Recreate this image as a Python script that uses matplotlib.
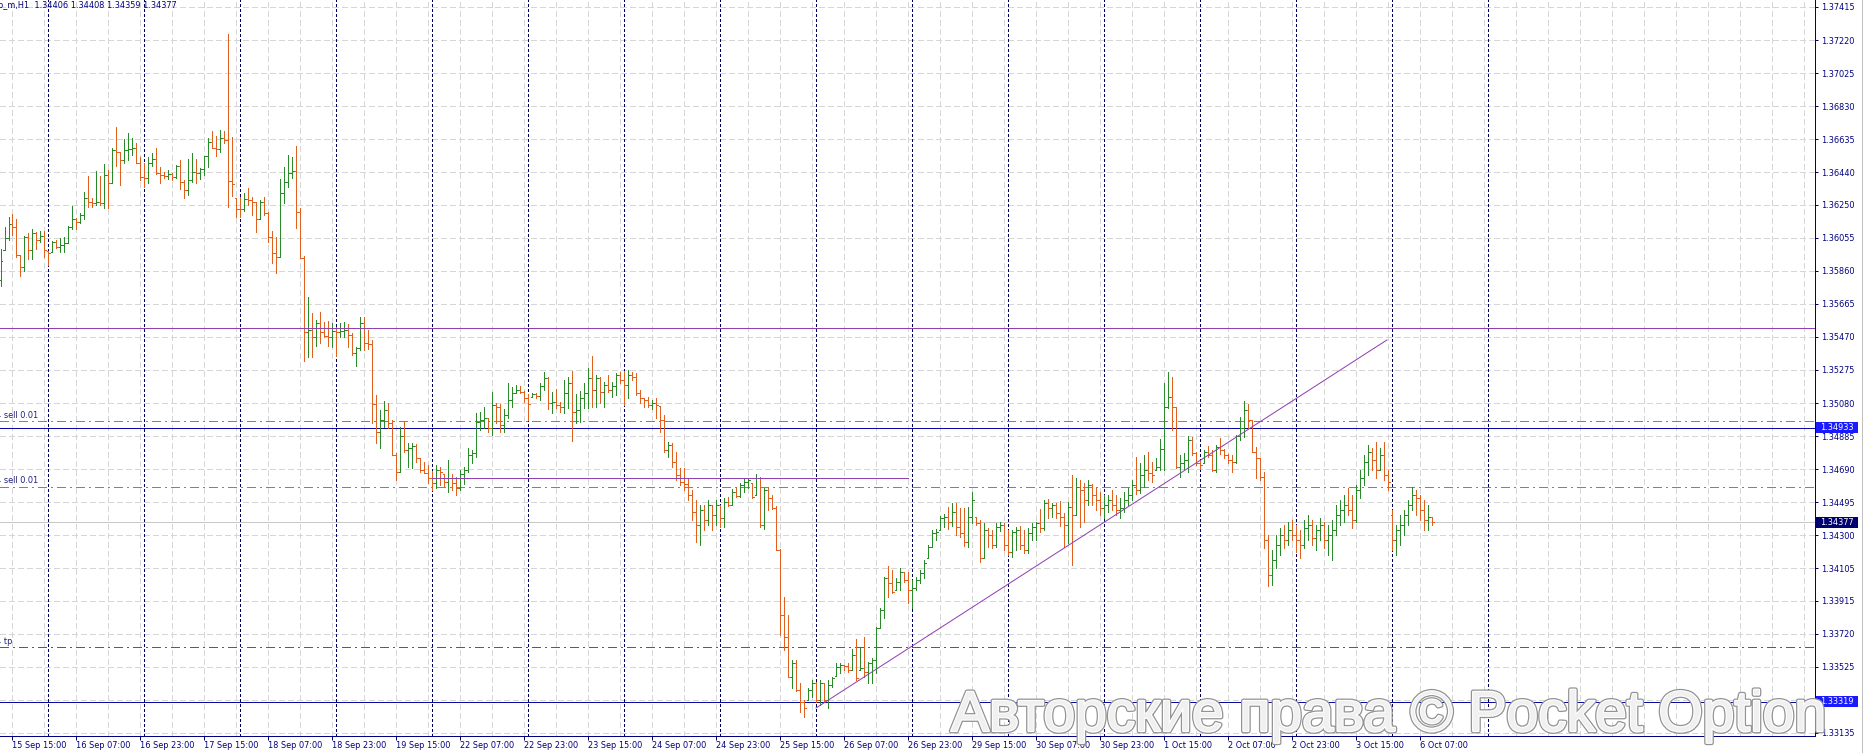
import matplotlib
matplotlib.use("Agg")
import matplotlib.pyplot as plt
import matplotlib.patheffects as pe
from matplotlib.patches import Rectangle
from matplotlib.lines import Line2D
from matplotlib.transforms import blended_transform_factory
import numpy as np

plt.rcParams["font.family"] = "DejaVu Sans"
plt.rcParams["lines.scale_dashes"] = False

# H1 bars, bar 0 = 15 Sep 15:00, weekend hours are skipped
first_bar = -3
opens = [
    1.35805, 1.35982, 1.36051, 1.36135, 1.36120, 1.35951, 1.35882, 1.36061, 1.35982, 1.36080,
    1.36041, 1.36065, 1.35978, 1.35968, 1.36031, 1.36002, 1.36012, 1.36022, 1.36120, 1.36163,
    1.36149, 1.36188, 1.36287, 1.36267, 1.36261, 1.36265, 1.36257, 1.36424, 1.36375, 1.36572,
    1.36562, 1.36513, 1.36572, 1.36576, 1.36585, 1.36497, 1.36414, 1.36405, 1.36493, 1.36517,
    1.36438, 1.36424, 1.36418, 1.36430, 1.36411, 1.36477, 1.36385, 1.36336, 1.36395, 1.36444,
    1.36434, 1.36458, 1.36536, 1.36621, 1.36582, 1.36576, 1.36640, 1.36631, 1.36387, 1.36287,
    1.36226, 1.36222, 1.36281, 1.36275, 1.36267, 1.36163, 1.36267, 1.36202, 1.36057, 1.35963,
    1.35939, 1.36320, 1.36385, 1.36438, 1.36450, 1.36206, 1.35933, 1.35500, 1.35511, 1.35469,
    1.35552, 1.35499, 1.35475, 1.35469, 1.35505, 1.35499, 1.35505, 1.35511, 1.35481, 1.35375,
    1.35405, 1.35552, 1.35434, 1.35428, 1.35074, 1.34909, 1.34980, 1.35039, 1.34962, 1.34774,
    1.34674, 1.34886, 1.34803, 1.34815, 1.34827, 1.34756, 1.34685, 1.34668, 1.34638, 1.34609,
    1.34685, 1.34662, 1.34615, 1.34638, 1.34609, 1.34579, 1.34662, 1.34685, 1.34774, 1.34786,
    1.34968, 1.34980, 1.34992, 1.34933, 1.35069, 1.35057, 1.34951, 1.35010, 1.35098, 1.35139,
    1.35157, 1.35145, 1.35110, 1.35116, 1.35133, 1.35122, 1.35181, 1.35228, 1.35080, 1.35086,
    1.35069, 1.35057, 1.35139, 1.35198, 1.35027, 1.35039, 1.35110, 1.35139, 1.35228, 1.35157,
    1.35228, 1.35145, 1.35186, 1.35157, 1.35181, 1.35245, 1.35216, 1.35186, 1.35245, 1.35234,
    1.35139, 1.35110, 1.35098, 1.35069, 1.35080, 1.35063, 1.34980, 1.34803, 1.34833, 1.34733,
    1.34656, 1.34615, 1.34603, 1.34538, 1.34438, 1.34361, 1.34450, 1.34391, 1.34479, 1.34420,
    1.34479, 1.34402, 1.34497, 1.34479, 1.34556, 1.34532, 1.34597, 1.34615, 1.34609, 1.34538,
    1.34638, 1.34361, 1.34567, 1.34520, 1.34461, 1.34214, 1.33831, 1.33701, 1.33465, 1.33548,
    1.33388, 1.33319, 1.33330, 1.33388, 1.33430, 1.33330, 1.33430, 1.33330, 1.33418, 1.33471,
    1.33524, 1.33536, 1.33530, 1.33506, 1.33595, 1.33506, 1.33518, 1.33494, 1.33548, 1.33565,
    1.33754, 1.33860, 1.34049, 1.34019, 1.33978, 1.34025, 1.34084, 1.34037, 1.33978, 1.33990,
    1.34037, 1.34078, 1.34167, 1.34232, 1.34314, 1.34332, 1.34402, 1.34408, 1.34379, 1.34438,
    1.34349, 1.34314, 1.34261, 1.34408, 1.34408, 1.34373, 1.34167, 1.34332, 1.34302, 1.34243,
    1.34349, 1.34361, 1.34243, 1.34202, 1.34320, 1.34332, 1.34243, 1.34214, 1.34314, 1.34349,
    1.34373, 1.34343, 1.34491, 1.34461, 1.34479, 1.34432, 1.34408, 1.34361, 1.34467, 1.34420,
    1.34585, 1.34567, 1.34509, 1.34597, 1.34538, 1.34509, 1.34461, 1.34479, 1.34509, 1.34479,
    1.34450, 1.34461, 1.34509, 1.34538, 1.34597, 1.34567, 1.34656, 1.34685, 1.34668, 1.34685,
    1.34703, 1.34809, 1.35057, 1.35116, 1.35057, 1.34703, 1.34727, 1.34744, 1.34862, 1.34786,
    1.34727, 1.34727, 1.34791, 1.34774, 1.34685, 1.34821, 1.34803, 1.34774, 1.34744, 1.34733,
    1.34886, 1.34933, 1.35039, 1.34980, 1.34791, 1.34756, 1.34644, 1.34273, 1.34066, 1.34155,
    1.34243, 1.34302, 1.34273, 1.34332, 1.34302, 1.34273, 1.34243, 1.34343, 1.34361, 1.34285,
    1.34332, 1.34361, 1.34273, 1.34302, 1.34332, 1.34420, 1.34450, 1.34479, 1.34450, 1.34391,
    1.34567, 1.34638, 1.34733, 1.34791, 1.34744, 1.34685, 1.34774, 1.34656, 1.34420, 1.34273,
    1.34332, 1.34361, 1.34420, 1.34479, 1.34538, 1.34520, 1.34450, 1.34391, 1.34406,
]
highs = [
    1.35986, 1.36120, 1.36179, 1.36194, 1.36163, 1.35951, 1.36065, 1.36084, 1.36104, 1.36090,
    1.36096, 1.36096, 1.35978, 1.36037, 1.36041, 1.36051, 1.36061, 1.36124, 1.36242, 1.36169,
    1.36198, 1.36324, 1.36418, 1.36287, 1.36450, 1.36418, 1.36489, 1.36454, 1.36585, 1.36707,
    1.36562, 1.36635, 1.36670, 1.36640, 1.36611, 1.36532, 1.36493, 1.36532, 1.36552, 1.36585,
    1.36473, 1.36444, 1.36454, 1.36438, 1.36483, 1.36513, 1.36395, 1.36517, 1.36552, 1.36517,
    1.36464, 1.36536, 1.36640, 1.36686, 1.36654, 1.36690, 1.36686, 1.37255, 1.36650, 1.36287,
    1.36297, 1.36320, 1.36346, 1.36293, 1.36267, 1.36277, 1.36297, 1.36208, 1.36096, 1.36061,
    1.36399, 1.36473, 1.36542, 1.36532, 1.36595, 1.36228, 1.35947, 1.35705, 1.35611, 1.35570,
    1.35617, 1.35558, 1.35564, 1.35552, 1.35528, 1.35552, 1.35558, 1.35546, 1.35493, 1.35410,
    1.35587, 1.35587, 1.35511, 1.35452, 1.35127, 1.35039, 1.35092, 1.35080, 1.34980, 1.34786,
    1.34939, 1.34968, 1.34845, 1.34845, 1.34839, 1.34756, 1.34733, 1.34715, 1.34679, 1.34715,
    1.34703, 1.34662, 1.34744, 1.34662, 1.34644, 1.34685, 1.34703, 1.34815, 1.34803, 1.35021,
    1.35027, 1.35057, 1.34992, 1.35145, 1.35080, 1.35074, 1.35045, 1.35198, 1.35175, 1.35186,
    1.35181, 1.35151, 1.35133, 1.35139, 1.35139, 1.35198, 1.35263, 1.35234, 1.35145, 1.35163,
    1.35086, 1.35216, 1.35234, 1.35269, 1.35133, 1.35151, 1.35198, 1.35287, 1.35357, 1.35245,
    1.35234, 1.35204, 1.35245, 1.35204, 1.35257, 1.35263, 1.35269, 1.35275, 1.35263, 1.35257,
    1.35157, 1.35110, 1.35116, 1.35098, 1.35110, 1.35063, 1.35010, 1.34850, 1.34845, 1.34791,
    1.34697, 1.34697, 1.34638, 1.34567, 1.34509, 1.34479, 1.34479, 1.34509, 1.34479, 1.34509,
    1.34479, 1.34520, 1.34526, 1.34573, 1.34585, 1.34609, 1.34638, 1.34638, 1.34609, 1.34662,
    1.34644, 1.34579, 1.34585, 1.34538, 1.34473, 1.34220, 1.33937, 1.33831, 1.33565, 1.33565,
    1.33430, 1.33330, 1.33400, 1.33447, 1.33436, 1.33447, 1.33430, 1.33447, 1.33465, 1.33548,
    1.33548, 1.33536, 1.33548, 1.33630, 1.33689, 1.33642, 1.33701, 1.33553, 1.33577, 1.33760,
    1.33872, 1.34054, 1.34119, 1.34096, 1.34049, 1.34108, 1.34084, 1.34084, 1.34037, 1.34054,
    1.34096, 1.34155, 1.34243, 1.34332, 1.34338, 1.34414, 1.34426, 1.34468, 1.34491, 1.34491,
    1.34461, 1.34461, 1.34468, 1.34556, 1.34408, 1.34391, 1.34373, 1.34343, 1.34332, 1.34373,
    1.34379, 1.34373, 1.34332, 1.34332, 1.34349, 1.34355, 1.34332, 1.34343, 1.34373, 1.34379,
    1.34455, 1.34509, 1.34514, 1.34491, 1.34491, 1.34503, 1.34432, 1.34497, 1.34656, 1.34638,
    1.34626, 1.34609, 1.34626, 1.34603, 1.34579, 1.34556, 1.34538, 1.34538, 1.34567, 1.34538,
    1.34520, 1.34556, 1.34579, 1.34626, 1.34762, 1.34727, 1.34774, 1.34791, 1.34733, 1.34756,
    1.34868, 1.35198, 1.35263, 1.35234, 1.35057, 1.34774, 1.34786, 1.34886, 1.34880, 1.34791,
    1.34744, 1.34803, 1.34827, 1.34803, 1.34833, 1.34874, 1.34809, 1.34780, 1.34774, 1.34892,
    1.34998, 1.35092, 1.35074, 1.34980, 1.34821, 1.34756, 1.34674, 1.34302, 1.34214, 1.34302,
    1.34343, 1.34361, 1.34379, 1.34391, 1.34361, 1.34332, 1.34391, 1.34420, 1.34391, 1.34361,
    1.34402, 1.34379, 1.34361, 1.34391, 1.34479, 1.34509, 1.34538, 1.34579, 1.34538, 1.34597,
    1.34685, 1.34774, 1.34833, 1.34815, 1.34850, 1.34815, 1.34850, 1.34685, 1.34450, 1.34361,
    1.34420, 1.34450, 1.34509, 1.34585, 1.34567, 1.34538, 1.34509, 1.34479, 1.34408,
]
lows = [
    1.35772, 1.35982, 1.36041, 1.36071, 1.35943, 1.35831, 1.35860, 1.35931, 1.35931, 1.35990,
    1.36027, 1.35943, 1.35896, 1.35968, 1.35992, 1.35968, 1.35968, 1.36022, 1.36104, 1.36108,
    1.36139, 1.36163, 1.36238, 1.36234, 1.36247, 1.36247, 1.36228, 1.36228, 1.36375, 1.36477,
    1.36365, 1.36497, 1.36513, 1.36542, 1.36493, 1.36395, 1.36356, 1.36375, 1.36477, 1.36430,
    1.36379, 1.36405, 1.36399, 1.36395, 1.36405, 1.36340, 1.36287, 1.36306, 1.36385, 1.36375,
    1.36399, 1.36424, 1.36473, 1.36582, 1.36536, 1.36562, 1.36615, 1.36238, 1.36300, 1.36179,
    1.36179, 1.36214, 1.36247, 1.36188, 1.36090, 1.36163, 1.36188, 1.36031, 1.35907, 1.35849,
    1.35939, 1.36257, 1.36356, 1.36405, 1.36110, 1.35933, 1.35328, 1.35351, 1.35351, 1.35416,
    1.35434, 1.35469, 1.35416, 1.35410, 1.35357, 1.35469, 1.35469, 1.35410, 1.35363, 1.35298,
    1.35393, 1.35393, 1.35399, 1.34962, 1.34845, 1.34815, 1.34939, 1.34933, 1.34774, 1.34626,
    1.34674, 1.34791, 1.34703, 1.34697, 1.34733, 1.34674, 1.34668, 1.34609, 1.34567, 1.34579,
    1.34597, 1.34585, 1.34556, 1.34567, 1.34538, 1.34567, 1.34603, 1.34674, 1.34727, 1.34762,
    1.34921, 1.34933, 1.34909, 1.34892, 1.34962, 1.34909, 1.34909, 1.34992, 1.35057, 1.35139,
    1.35139, 1.35086, 1.34980, 1.35116, 1.35110, 1.35098, 1.35157, 1.35045, 1.35021, 1.35051,
    1.35027, 1.35021, 1.35051, 1.34856, 1.34962, 1.34968, 1.35051, 1.35051, 1.35057, 1.35057,
    1.35080, 1.35057, 1.35145, 1.35116, 1.35128, 1.35198, 1.35069, 1.35110, 1.35216, 1.35128,
    1.35080, 1.35057, 1.35057, 1.35045, 1.34992, 1.34909, 1.34791, 1.34762, 1.34703, 1.34626,
    1.34597, 1.34567, 1.34509, 1.34391, 1.34261, 1.34243, 1.34332, 1.34361, 1.34332, 1.34361,
    1.34349, 1.34349, 1.34473, 1.34479, 1.34526, 1.34526, 1.34556, 1.34579, 1.34520, 1.34538,
    1.34349, 1.34338, 1.34450, 1.34455, 1.34214, 1.33713, 1.33624, 1.33465, 1.33400, 1.33383,
    1.33259, 1.33229, 1.33330, 1.33347, 1.33319, 1.33300, 1.33319, 1.33282, 1.33406, 1.33471,
    1.33489, 1.33506, 1.33494, 1.33506, 1.33447, 1.33506, 1.33465, 1.33430, 1.33430, 1.33489,
    1.33754, 1.33813, 1.33937, 1.33960, 1.33978, 1.33978, 1.34025, 1.33901, 1.33872, 1.33978,
    1.34019, 1.34049, 1.34167, 1.34232, 1.34273, 1.34332, 1.34349, 1.34338, 1.34355, 1.34302,
    1.34290, 1.34237, 1.34232, 1.34373, 1.34361, 1.34143, 1.34167, 1.34232, 1.34226, 1.34232,
    1.34326, 1.34214, 1.34184, 1.34173, 1.34214, 1.34220, 1.34196, 1.34196, 1.34273, 1.34273,
    1.34320, 1.34332, 1.34402, 1.34408, 1.34402, 1.34355, 1.34232, 1.34255, 1.34125, 1.34420,
    1.34349, 1.34379, 1.34479, 1.34479, 1.34450, 1.34420, 1.34402, 1.34438, 1.34450, 1.34420,
    1.34402, 1.34438, 1.34479, 1.34509, 1.34544, 1.34550, 1.34585, 1.34626, 1.34615, 1.34685,
    1.34685, 1.34685, 1.35051, 1.34921, 1.34697, 1.34644, 1.34691, 1.34674, 1.34774, 1.34715,
    1.34691, 1.34727, 1.34762, 1.34679, 1.34674, 1.34780, 1.34756, 1.34727, 1.34674, 1.34727,
    1.34862, 1.34880, 1.34933, 1.34791, 1.34638, 1.34626, 1.34226, 1.34001, 1.34007, 1.34108,
    1.34184, 1.34226, 1.34243, 1.34273, 1.34202, 1.34167, 1.34226, 1.34273, 1.34243, 1.34214,
    1.34273, 1.34226, 1.34184, 1.34155, 1.34302, 1.34361, 1.34379, 1.34420, 1.34343, 1.34379,
    1.34520, 1.34597, 1.34656, 1.34685, 1.34638, 1.34685, 1.34626, 1.34567, 1.34214, 1.34184,
    1.34243, 1.34302, 1.34361, 1.34450, 1.34420, 1.34391, 1.34332, 1.34332, 1.34359,
]
closes = [
    1.35915, 1.36051, 1.36135, 1.36120, 1.35951, 1.35882, 1.36061, 1.35982, 1.36080, 1.36041,
    1.36065, 1.35982, 1.35963, 1.36031, 1.36002, 1.36012, 1.36022, 1.36120, 1.36163, 1.36149,
    1.36188, 1.36287, 1.36267, 1.36261, 1.36265, 1.36257, 1.36424, 1.36375, 1.36572, 1.36562,
    1.36513, 1.36572, 1.36576, 1.36585, 1.36497, 1.36414, 1.36405, 1.36493, 1.36517, 1.36438,
    1.36424, 1.36418, 1.36430, 1.36411, 1.36477, 1.36385, 1.36336, 1.36395, 1.36444, 1.36434,
    1.36458, 1.36536, 1.36621, 1.36582, 1.36576, 1.36640, 1.36631, 1.36387, 1.36371, 1.36226,
    1.36222, 1.36281, 1.36275, 1.36267, 1.36163, 1.36267, 1.36202, 1.36057, 1.35963, 1.35939,
    1.36320, 1.36385, 1.36438, 1.36450, 1.36206, 1.35933, 1.35500, 1.35511, 1.35469, 1.35552,
    1.35499, 1.35475, 1.35469, 1.35505, 1.35499, 1.35505, 1.35511, 1.35481, 1.35375, 1.35405,
    1.35552, 1.35434, 1.35428, 1.35074, 1.34909, 1.34980, 1.35039, 1.34962, 1.34774, 1.34674,
    1.34886, 1.34803, 1.34815, 1.34827, 1.34756, 1.34685, 1.34668, 1.34638, 1.34609, 1.34685,
    1.34674, 1.34615, 1.34638, 1.34609, 1.34579, 1.34662, 1.34685, 1.34774, 1.34786, 1.34968,
    1.34980, 1.34992, 1.34933, 1.35069, 1.35057, 1.34951, 1.35010, 1.35098, 1.35139, 1.35157,
    1.35145, 1.35110, 1.35074, 1.35133, 1.35122, 1.35181, 1.35228, 1.35080, 1.35086, 1.35069,
    1.35057, 1.35139, 1.35198, 1.35027, 1.35039, 1.35110, 1.35139, 1.35228, 1.35157, 1.35228,
    1.35145, 1.35186, 1.35157, 1.35181, 1.35245, 1.35216, 1.35186, 1.35245, 1.35234, 1.35139,
    1.35110, 1.35098, 1.35069, 1.35080, 1.35069, 1.34980, 1.34803, 1.34833, 1.34733, 1.34656,
    1.34615, 1.34603, 1.34538, 1.34438, 1.34361, 1.34450, 1.34391, 1.34479, 1.34420, 1.34479,
    1.34402, 1.34497, 1.34479, 1.34556, 1.34532, 1.34597, 1.34615, 1.34626, 1.34526, 1.34638,
    1.34361, 1.34567, 1.34520, 1.34461, 1.34214, 1.33831, 1.33701, 1.33465, 1.33548, 1.33388,
    1.33319, 1.33282, 1.33388, 1.33430, 1.33330, 1.33430, 1.33330, 1.33418, 1.33459, 1.33524,
    1.33536, 1.33530, 1.33506, 1.33595, 1.33459, 1.33518, 1.33494, 1.33548, 1.33565, 1.33754,
    1.33860, 1.34049, 1.34019, 1.33966, 1.34025, 1.34084, 1.34037, 1.33978, 1.33990, 1.34037,
    1.34078, 1.34137, 1.34232, 1.34314, 1.34320, 1.34402, 1.34408, 1.34379, 1.34438, 1.34349,
    1.34314, 1.34261, 1.34408, 1.34509, 1.34373, 1.34167, 1.34332, 1.34302, 1.34243, 1.34349,
    1.34361, 1.34243, 1.34202, 1.34320, 1.34332, 1.34243, 1.34214, 1.34314, 1.34349, 1.34373,
    1.34343, 1.34491, 1.34461, 1.34479, 1.34432, 1.34408, 1.34361, 1.34467, 1.34420, 1.34585,
    1.34567, 1.34509, 1.34597, 1.34538, 1.34509, 1.34461, 1.34479, 1.34509, 1.34479, 1.34450,
    1.34461, 1.34509, 1.34538, 1.34597, 1.34567, 1.34656, 1.34685, 1.34668, 1.34656, 1.34703,
    1.34809, 1.35057, 1.35116, 1.35057, 1.34703, 1.34727, 1.34744, 1.34862, 1.34786, 1.34727,
    1.34715, 1.34791, 1.34774, 1.34685, 1.34821, 1.34803, 1.34774, 1.34744, 1.34733, 1.34886,
    1.34933, 1.35039, 1.34980, 1.34791, 1.34756, 1.34644, 1.34273, 1.34066, 1.34155, 1.34243,
    1.34302, 1.34273, 1.34332, 1.34302, 1.34273, 1.34243, 1.34343, 1.34361, 1.34285, 1.34332,
    1.34361, 1.34273, 1.34302, 1.34332, 1.34420, 1.34450, 1.34479, 1.34450, 1.34391, 1.34567,
    1.34638, 1.34733, 1.34791, 1.34744, 1.34685, 1.34774, 1.34656, 1.34615, 1.34273, 1.34332,
    1.34361, 1.34420, 1.34479, 1.34538, 1.34520, 1.34450, 1.34391, 1.34406, 1.34377,
]

time_labels = ["15 Sep 15:00", "16 Sep 07:00", "16 Sep 23:00", "17 Sep 15:00", "18 Sep 07:00",
               "18 Sep 23:00", "19 Sep 15:00", "22 Sep 07:00", "22 Sep 23:00", "23 Sep 15:00",
               "24 Sep 07:00", "24 Sep 23:00", "25 Sep 15:00", "26 Sep 07:00", "26 Sep 23:00",
               "29 Sep 15:00", "30 Sep 07:00", "30 Sep 23:00", "1 Oct 15:00", "2 Oct 07:00",
               "2 Oct 23:00", "3 Oct 15:00", "6 Oct 07:00"]
label_bars = list(range(0, 353, 16))
day_starts = [9, 33, 57, 81, 105, 129, 153, 177, 201, 225, 249, 273, 297, 321, 345, 369]
price_labels = [1.37415, 1.37220, 1.37025, 1.36830, 1.36635, 1.36440, 1.36250, 1.36055,
                1.35860, 1.35665, 1.35470, 1.35275, 1.35080, 1.34885, 1.34690, 1.34495,
                1.34300, 1.34105, 1.33915, 1.33720, 1.33525, 1.33330, 1.33135]

resistance = 1.35522
support_bars = (105, 224)
support = 1.34638
trend_bars = (201, 343.75)
trend_prices = (1.33282, 1.35452)
sell_levels = [1.34974, 1.34585]
tp_level = 1.33640
order_levels = [1.34933, 1.33319]
bid = 1.34377
header = "p_m,H1  1.34406 1.34408 1.34359 1.34377"

W, H = 1865, 753
PX = 0.72
FS = 5.9
NAVY = "#000080"
SEP = "#00005a"
GREEN = "#2a8a2a"
ORANGE = "#e0601e"
PURPLE = "#9040b0"
LINE_BLUE = "#0a0aa0"
dpp = 5.895e-5  # price per pixel

fig = plt.figure(figsize=(W / 100, H / 100), dpi=100)
ax = fig.add_axes([0, 17 / H, 1815 / W, 736 / H])
ax.set_xlim(-3, 450.75)
ax.set_ylim(1.33117, 1.37456)

# grid
for v in range(0, 451, 8):
    ax.axvline(v + 0.125, color="#d6d6d6", lw=PX, ls=(0, (3.6, 2.2)), zorder=0.5, antialiased=False)
for p in price_labels:
    ax.axhline(p, color="#d6d6d6", lw=PX, ls=(0, (3.6, 2.2)), zorder=0.5, antialiased=False)
# day separators
for d in day_starts:
    ax.axvline(d + 0.125, color=SEP, lw=PX, ls=(0, (1.5, 1.5)), zorder=1, antialiased=False)

# levels
ax.axhline(bid, color="#c8c8c8", lw=PX, zorder=1.5, antialiased=False)
ax.axhline(resistance, color=PURPLE, lw=PX, zorder=4, antialiased=False)
ax.plot(support_bars, [support, support], color=PURPLE, lw=PX, zorder=4, antialiased=False)
ax.plot(trend_bars, trend_prices, color=PURPLE, lw=PX, zorder=4)
for lv in sell_levels:
    ax.axhline(lv, color="#3cb43c", lw=PX, ls=(0, (5.8, 2.9, 1.4, 2.9)), zorder=2, antialiased=False)
ax.axhline(tp_level, color="#b03060", lw=PX, ls=(0, (5.8, 2.9, 1.4, 2.9)), zorder=2, antialiased=False)
for lv in order_levels:
    ax.axhline(lv, color=LINE_BLUE, lw=PX, zorder=2, antialiased=False)

# OHLC bars
o = np.array(opens)
h = np.array(highs)
l = np.array(lows)
c = np.array(closes)
x = np.arange(first_bar, first_bar + len(c)) + 0.125
cols = np.where(c >= o, GREEN, ORANGE)
ax.vlines(x, l, h, colors=cols, lw=PX, zorder=3, antialiased=False)
ax.hlines(o, x - 0.45, x, colors=cols, lw=PX, zorder=3, antialiased=False)
ax.hlines(c, x, x + 0.45, colors=cols, lw=PX, zorder=3, antialiased=False)

# axes look
for s in ["top", "left"]:
    ax.spines[s].set_visible(False)
for s in ["bottom", "right"]:
    ax.spines[s].set_color(NAVY)
    ax.spines[s].set_linewidth(PX)
ax.yaxis.tick_right()
ax.set_yticks(price_labels)
ax.set_yticklabels([f"{p:.5f}" for p in price_labels])
ax.tick_params(axis="y", colors=NAVY, length=2.2, width=PX, pad=2.2, labelsize=FS)
ax.set_xticks([b + 0.125 for b in label_bars])
ax.set_xticklabels(time_labels)
ax.tick_params(axis="x", colors=NAVY, length=2.9, width=PX, pad=0.7, labelsize=FS)
for t in ax.get_xticklabels():
    t.set_ha("left")

# texts inside the chart
tr = blended_transform_factory(ax.transAxes, ax.transData)
ax.text(-2.5 / 1815, 1 - 6 / 736, header, transform=ax.transAxes, fontsize=FS,
        color=NAVY, va="center", ha="left", clip_on=True)
for lv in sell_levels:
    ax.text(-3.8 / 1815, lv + 1.5 * dpp, "4 sell 0.01", transform=tr,
            fontsize=FS, color="#202078", va="bottom", ha="left", clip_on=True)
ax.text(-3.8 / 1815, tp_level + 1.5 * dpp, "4 tp", transform=tr,
        fontsize=FS, color="#202078", va="bottom", ha="left", clip_on=True)

# price boxes on the scale
for lv, fc in [(order_levels[0], "#1a1aff"), (bid, "#000070"), (order_levels[1], "#1a1aff")]:
    ax.add_patch(Rectangle((1816 / 1815, lv - 5.5 * dpp), 42 / 1815, 11 * dpp, transform=tr,
                           fc=fc, ec="none", clip_on=False, zorder=5))
    ax.text(1820 / 1815, lv, f"{lv:.5f}", transform=tr, color="white", fontsize=FS,
            va="center", ha="left", zorder=6, clip_on=False)

# window border
fig.add_artist(Line2D([1862.5 / W, 1862.5 / W], [0, 1], transform=fig.transFigure,
                      color="#c0c0c0", lw=PX))

# watermark
fig.text(951 / W, 1 - 731 / H, "Авторские права © Pocket Option", fontsize=41,
         family="Liberation Sans", color="#f0f0f0", ha="left", va="baseline", zorder=10,
         path_effects=[pe.SimplePatchShadow(offset=(1.2, -1.2), shadow_rgbFace="#a0a0a0", alpha=0.45),
                       pe.Stroke(linewidth=3.4, foreground="#939393"),
                       pe.Stroke(linewidth=1.6, foreground="white"),
                       pe.Normal()])

fig.savefig("out.png", dpi=100, facecolor="white")
